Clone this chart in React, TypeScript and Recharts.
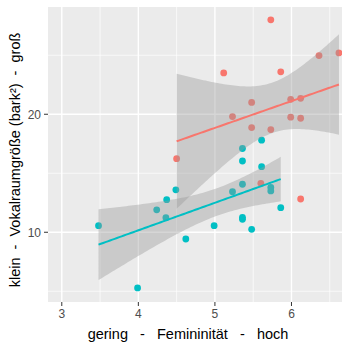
import React from "react";
import {
  ComposedChart,
  Scatter,
  Line,
  Area,
  XAxis,
  YAxis,
  CartesianGrid,
} from "recharts";

// Group 1 (red)
const redX = [4.5, 5.115, 5.23, 5.48, 5.48, 5.6, 5.73, 5.73, 5.86, 5.99, 5.99, 6.12, 6.12, 6.12, 6.36, 6.62];
const redY = [16.24, 23.5, 19.8, 21.0, 18.87, 14.15, 28.0, 18.7, 23.6, 21.27, 19.75, 21.35, 19.66, 12.82, 24.97, 25.2];

// Group 2 (teal)
const tealX = [3.48, 3.99, 4.24, 4.36, 4.37, 4.49, 4.62, 4.99, 5.23, 5.36, 5.36, 5.36, 5.36, 5.36, 5.48, 5.61, 5.61, 5.73, 5.73, 5.86];
const tealY = [10.56, 5.28, 11.9, 11.24, 12.76, 13.6, 9.43, 10.56, 13.44, 14.07, 11.27, 11.1, 16.04, 17.1, 10.25, 17.8, 15.56, 13.8, 13.5, 12.08];

const xTicks = [3, 4, 5, 6];
const yTicks = [10, 20];
const xMinor = [3.5, 4.5, 5.5, 6.5];
const yMinor = [5, 15, 25];
const xDomain = [2.82, 6.66];
const yDomain = [4.09, 29.09];

const RED = "#F8766D";
const TEAL = "#00BFC4";
const FONT = "'Liberation Sans', Arial, sans-serif";

// t quantiles (0.975) for the 95% confidence band
const tQuantile: Record<number, number> = { 14: 2.145, 18: 2.101 };

function smooth(xs: number[], ys: number[]) {
  const n = xs.length;
  const mx = xs.reduce((a, b) => a + b, 0) / n;
  const my = ys.reduce((a, b) => a + b, 0) / n;
  let sxx = 0, sxy = 0;
  for (let i = 0; i < n; i++) {
    sxx += (xs[i] - mx) ** 2;
    sxy += (xs[i] - mx) * (ys[i] - my);
  }
  const b = sxy / sxx;
  const a = my - b * mx;
  let ssr = 0;
  for (let i = 0; i < n; i++) ssr += (ys[i] - a - b * xs[i]) ** 2;
  const s = Math.sqrt(ssr / (n - 2));
  const t = tQuantile[n - 2] ?? 2.1;
  const lo = Math.min(...xs);
  const hi = Math.max(...xs);
  const out: { x: number; fit: number; band: [number, number] }[] = [];
  const steps = 80;
  for (let k = 0; k < steps; k++) {
    const x = lo + ((hi - lo) * k) / (steps - 1);
    const fit = a + b * x;
    const se = s * Math.sqrt(1 / n + (x - mx) ** 2 / sxx);
    out.push({ x, fit, band: [fit - t * se, fit + t * se] });
  }
  return out;
}

const redPts = redX.map((x, i) => ({ x, y: redY[i] }));
const tealPts = tealX.map((x, i) => ({ x, y: tealY[i] }));
const redFit = smooth(redX, redY);
const tealFit = smooth(tealX, tealY);

const dot = (color: string) => (props: any) => (
  <circle cx={props.cx} cy={props.cy} r={3.4} fill={color} />
);

export default function App() {
  return (
    <div style={{ position: "absolute", left: 0, top: 0, background: "#fff" }}>
      <div style={{ position: "relative", width: 350, height: 350 }}>
        <ComposedChart
          width={350}
          height={350}
          margin={{ top: 7, right: 8, bottom: 0, left: 0 }}
        >
          <CartesianGrid
            fill="#EBEBEB"
            stroke="#FFFFFF"
            strokeWidth={0.7}
            verticalValues={xMinor}
            horizontalValues={yMinor}
          />
          <CartesianGrid
            stroke="#FFFFFF"
            strokeWidth={1.4}
            verticalValues={xTicks}
            horizontalValues={yTicks}
          />
          <XAxis
            type="number"
            dataKey="x"
            domain={xDomain}
            allowDataOverflow
            ticks={xTicks}
            height={48}
            axisLine={false}
            tickSize={4}
            tickMargin={3}
            tickLine={{ stroke: "#333333", strokeWidth: 1 }}
            tick={{ fill: "#4D4D4D", fontSize: 12, fontFamily: FONT }}
          />
          <YAxis
            type="number"
            domain={yDomain}
            allowDataOverflow
            ticks={yTicks}
            width={48}
            axisLine={false}
            tickSize={4}
            tickMargin={3}
            tickLine={{ stroke: "#333333", strokeWidth: 1 }}
            tick={{ fill: "#4D4D4D", fontSize: 12, fontFamily: FONT }}
          />
          <Scatter data={redPts} dataKey="y" shape={dot(RED)} isAnimationActive={false} zIndex={50} />
          <Scatter data={tealPts} dataKey="y" shape={dot(TEAL)} isAnimationActive={false} zIndex={50} />
          <Area
            data={redFit}
            dataKey="band"
            type="linear"
            stroke="none"
            fill="#999999"
            fillOpacity={0.4}
            isAnimationActive={false}
            zIndex={100}
          />
          <Area
            data={tealFit}
            dataKey="band"
            type="linear"
            stroke="none"
            fill="#999999"
            fillOpacity={0.4}
            isAnimationActive={false}
            zIndex={100}
          />
          <Line
            data={redFit}
            dataKey="fit"
            type="linear"
            stroke={RED}
            strokeWidth={2}
            dot={false}
            activeDot={false}
            isAnimationActive={false}
            zIndex={400}
          />
          <Line
            data={tealFit}
            dataKey="fit"
            type="linear"
            stroke={TEAL}
            strokeWidth={2}
            dot={false}
            activeDot={false}
            isAnimationActive={false}
            zIndex={400}
          />
        </ComposedChart>
        <div
          style={{
            position: "absolute",
            left: 188,
            top: 334,
            transform: "translate(-50%, -50%)",
            fontFamily: FONT,
            fontSize: 14.5,
            color: "#000",
            whiteSpace: "pre",
            lineHeight: "18px",
          }}
        >
          {"gering   -   Femininität   -   hoch"}
        </div>
        <div
          style={{
            position: "absolute",
            left: 15,
            top: 160,
            transform: "translate(-50%, -50%) rotate(-90deg)",
            fontFamily: FONT,
            fontSize: 14.5,
            color: "#000",
            whiteSpace: "pre",
            lineHeight: "18px",
          }}
        >
          {"klein  -  Vokalraumgröße (bark²)  -  groß"}
        </div>
      </div>
    </div>
  );
}
